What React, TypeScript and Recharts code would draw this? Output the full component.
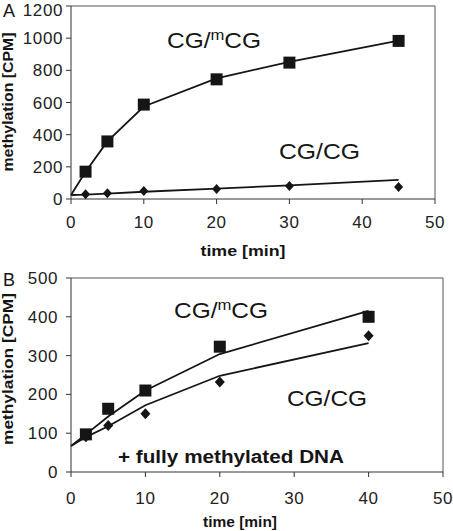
import React from "react";
import {
  ComposedChart,
  XAxis,
  YAxis,
  Line,
  Scatter,
  ReferenceLine,
} from "recharts";

// panel A: methylation of hemimethylated (CG/mCG) vs unmethylated (CG/CG) DNA
const timeA = [2, 5, 10, 20, 30, 45];
const mcgA = [170, 358, 587, 744, 848, 983];
const cgA = [29, 35, 50, 62, 81, 75];
const fitTimeA = [0, 2, 5, 10, 20, 30, 45];
const mcgFitA = [25, 170, 358, 575, 750, 853, 985];
const cgFitA = [25, 27, 33, 45, 65, 85, 119];

// panel B: same, in presence of fully methylated DNA
const timeB = [2, 5, 10, 20, 40];
const mcgB = [97, 163, 210, 323, 400];
const cgB = [91, 120, 150, 232, 351];
const fitTimeB = [0, 2, 5, 10, 20, 40];
const mcgFitB = [67, 97, 143, 210, 304, 415];
const cgFitB = [67, 90, 118, 172, 248, 332];

const xTicks = [0, 10, 20, 30, 40, 50];
const yTicksA = [0, 200, 400, 600, 800, 1000, 1200];
const yTicksB = [0, 100, 200, 300, 400, 500];

const toPts = (xs: number[], ys: number[]) =>
  xs.map((x, i) => ({ x, y: ys[i] }));

const FONT = "'Liberation Sans', Arial, sans-serif";
const INK = "#151515";

/* eslint-disable @typescript-eslint/no-explicit-any */
const square = (half: number) => (p: any) =>
  (
    <rect
      x={p.cx - half}
      y={p.cy - half}
      width={half * 2}
      height={half * 2}
      fill={INK}
    />
  );

const diamond = (hw: number, hh: number) => (p: any) =>
  (
    <path
      d={`M${p.cx},${p.cy - hh} L${p.cx + hw},${p.cy} L${p.cx},${p.cy + hh} L${p.cx - hw},${p.cy} Z`}
      fill={INK}
    />
  );
/* eslint-enable @typescript-eslint/no-explicit-any */

const tickStyle = { fill: "#222", fontSize: 17, fontFamily: FONT, letterSpacing: 0.6 };

function Panel(props: {
  height: number;
  margin: { top: number; right: number; left: number; bottom: number };
  yMax: number;
  yTicks: number[];
  yTickMargin: number;
  xTickMargin: number;
  time: number[];
  mcg: number[];
  cg: number[];
  fitTime: number[];
  mcgFit: number[];
  cgFit: number[];
  sq: number;
  dw: number;
  dh: number;
}) {
  return (
    <ComposedChart width={453} height={props.height} margin={props.margin}>
      <XAxis
        dataKey="x"
        type="number"
        domain={[0, 50]}
        ticks={xTicks}
        tick={tickStyle}
        tickSize={5}
        tickMargin={props.xTickMargin}
        axisLine={{ stroke: "#333" }}
        tickLine={{ stroke: "#333" }}
        height={30}
      />
      <YAxis
        dataKey="y"
        type="number"
        domain={[0, props.yMax]}
        ticks={props.yTicks}
        tick={tickStyle}
        tickSize={5}
        tickMargin={props.yTickMargin}
        axisLine={{ stroke: "#333" }}
        tickLine={{ stroke: "#333" }}
        width={71}
      />
      <ReferenceLine y={props.yMax} stroke="#555" />
      <ReferenceLine x={50} stroke="#555" />
      <Line
        data={toPts(props.fitTime, props.mcgFit)}
        dataKey="y"
        stroke={INK}
        strokeWidth={1.8}
        dot={false}
        activeDot={false}
        isAnimationActive={false}
      />
      <Line
        data={toPts(props.fitTime, props.cgFit)}
        dataKey="y"
        stroke={INK}
        strokeWidth={1.8}
        dot={false}
        activeDot={false}
        isAnimationActive={false}
      />
      <Scatter
        data={toPts(props.time, props.mcg)}
        dataKey="y"
        shape={square(props.sq)}
        isAnimationActive={false}
      />
      <Scatter
        data={toPts(props.time, props.cg)}
        dataKey="y"
        shape={diamond(props.dw, props.dh)}
        isAnimationActive={false}
      />
    </ComposedChart>
  );
}

function Labels() {
  const big = { fontFamily: FONT, fontSize: 22, fill: INK };
  const bold = { fontFamily: FONT, fontWeight: 700, fill: INK };
  return (
    <svg
      width={453}
      height={531}
      style={{ position: "absolute", top: 0, left: 0, pointerEvents: "none" }}
    >
      <text x={3} y={17} style={{ fontFamily: FONT, fontSize: 18, fill: INK }}>A</text>
      <text x={3} y={286} style={{ fontFamily: FONT, fontSize: 18, fill: INK }}>B</text>

      <text x={167} y={48} style={big} textLength={94} lengthAdjust="spacingAndGlyphs">
        CG/<tspan fontSize={15} dy={-8}>m</tspan>
        <tspan dy={8}>CG</tspan>
      </text>
      <text x={279} y={159} style={big} textLength={81} lengthAdjust="spacingAndGlyphs">
        CG/CG
      </text>

      <text x={174} y={318} style={big} textLength={94} lengthAdjust="spacingAndGlyphs">
        CG/<tspan fontSize={15} dy={-8}>m</tspan>
        <tspan dy={8}>CG</tspan>
      </text>
      <text x={287} y={406} style={big} textLength={80} lengthAdjust="spacingAndGlyphs">
        CG/CG
      </text>
      <text
        x={118}
        y={463}
        style={{ ...bold, fontSize: 18 }}
        textLength={226}
        lengthAdjust="spacingAndGlyphs"
      >
        + fully methylated DNA
      </text>

      <text
        x={243}
        y={256}
        textAnchor="middle"
        style={{ ...bold, fontSize: 15 }}
        textLength={85}
        lengthAdjust="spacingAndGlyphs"
      >
        time [min]
      </text>
      <text
        x={240}
        y={527}
        textAnchor="middle"
        style={{ ...bold, fontSize: 15 }}
        textLength={74}
        lengthAdjust="spacingAndGlyphs"
      >
        time [min]
      </text>

      <text
        x={13}
        y={102}
        textAnchor="middle"
        transform="rotate(-90 13 102)"
        style={{ ...bold, fontSize: 15 }}
        textLength={139}
        lengthAdjust="spacingAndGlyphs"
      >
        methylation [CPM]
      </text>
      <text
        x={13}
        y={369}
        textAnchor="middle"
        transform="rotate(-90 13 369)"
        style={{ ...bold, fontSize: 15 }}
        textLength={152}
        lengthAdjust="spacingAndGlyphs"
      >
        methylation [CPM]
      </text>
    </svg>
  );
}

export default function App() {
  return (
    <div
      style={{
        position: "absolute",
        top: 0,
        left: 0,
        width: 453,
        height: 531,
        background: "#fff",
      }}
    >
      <Panel
        height={260}
        margin={{ top: 6, right: 18, left: 0, bottom: 31 }}
        yMax={1200}
        yTicks={yTicksA}
        yTickMargin={3}
        xTickMargin={12}
        time={timeA}
        mcg={mcgA}
        cg={cgA}
        fitTime={fitTimeA}
        mcgFit={mcgFitA}
        cgFit={cgFitA}
        sq={6}
        dw={4.5}
        dh={5}
      />
      <Panel
        height={271}
        margin={{ top: 18, right: 10, left: 0, bottom: 29 }}
        yMax={500}
        yTicks={yTicksB}
        yTickMargin={8}
        xTickMargin={15}
        time={timeB}
        mcg={mcgB}
        cg={cgB}
        fitTime={fitTimeB}
        mcgFit={mcgFitB}
        cgFit={cgFitB}
        sq={6}
        dw={5}
        dh={5.5}
      />
      <Labels />
    </div>
  );
}
